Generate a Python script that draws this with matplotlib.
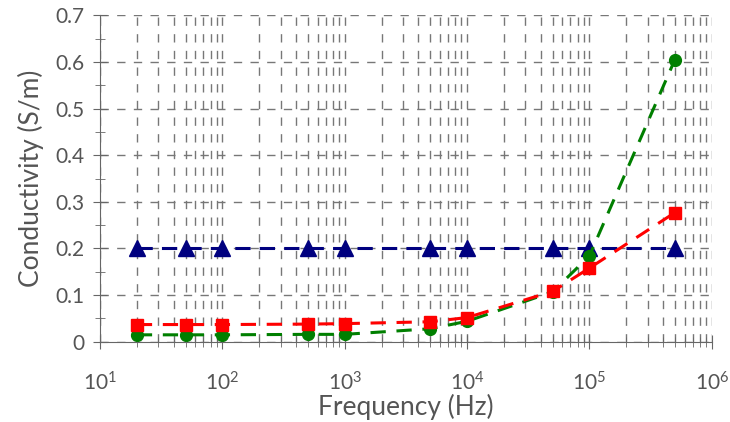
import numpy as np
import matplotlib.pyplot as plt
from matplotlib.ticker import LogLocator, MultipleLocator, NullFormatter

plt.rcParams['font.family'] = ['Lato', 'DejaVu Sans']

freq = [20, 50, 100, 500, 1000, 5000, 10000, 50000, 100000, 500000]
cond_tri = [0.201, 0.201, 0.201, 0.201, 0.201, 0.201, 0.201, 0.201, 0.201, 0.201]
cond_sq = [0.037, 0.037, 0.037, 0.038, 0.039, 0.043, 0.052, 0.108, 0.158, 0.277]
cond_ci = [0.015, 0.015, 0.015, 0.016, 0.016, 0.028, 0.044, 0.107, 0.184, 0.605]

txt = '#555555'
fig = plt.figure(figsize=(7.3, 4.22), dpi=100)
ax = fig.add_axes([0.137, 0.19, 0.838, 0.774])

ax.plot(freq, cond_tri, color='#00007f', linestyle=(0, (5, 3)), linewidth=2.2,
        marker='^', markersize=12)
ax.plot(freq, cond_ci, color='#007f00', linestyle=(0, (5, 3.5)), linewidth=2.2,
        marker='o', markersize=8.5)
ax.plot(freq, cond_sq, color='#ff0000', linestyle=(0, (5, 3.5)), linewidth=2.2,
        marker='s', markersize=8.5)

ax.set_xscale('log')
ax.set_xlim(10, 1e6)
ax.set_ylim(0, 0.7)
ax.xaxis.set_major_locator(LogLocator(base=10, numticks=10))
ax.xaxis.set_minor_locator(LogLocator(base=10, subs=np.arange(2, 10), numticks=20))
ax.xaxis.set_minor_formatter(NullFormatter())
ax.yaxis.set_minor_locator(MultipleLocator(0.05))
ax.set_yticks([0, 0.1, 0.2, 0.3, 0.4, 0.5, 0.6, 0.7])
ax.set_yticklabels(['0', '0.1', '0.2', '0.3', '0.4', '0.5', '0.6', '0.7'])

ax.grid(which='major', axis='both', color='#777777', linestyle=(0, (6, 6)), linewidth=1)
ax.grid(which='minor', axis='x', color='#777777', linestyle=(0, (6, 6)), linewidth=1)

for s in ['top', 'right']:
    ax.spines[s].set_visible(False)
for s in ['left', 'bottom']:
    ax.spines[s].set_color('#666666')

ax.tick_params(which='major', direction='inout', length=10, color='#666666',
               labelcolor=txt, labelsize=15)
ax.tick_params(which='minor', direction='inout', length=7, color='#666666')
ax.tick_params(axis='x', which='major', pad=16)
ax.tick_params(axis='y', which='major', pad=6)

ax.set_xlabel('Frequency (Hz)', fontsize=19, color=txt, labelpad=0)
ax.set_ylabel('Conductivity (S/m)', fontsize=19, color=txt, labelpad=8)

fig.savefig('out.png', dpi=100)
